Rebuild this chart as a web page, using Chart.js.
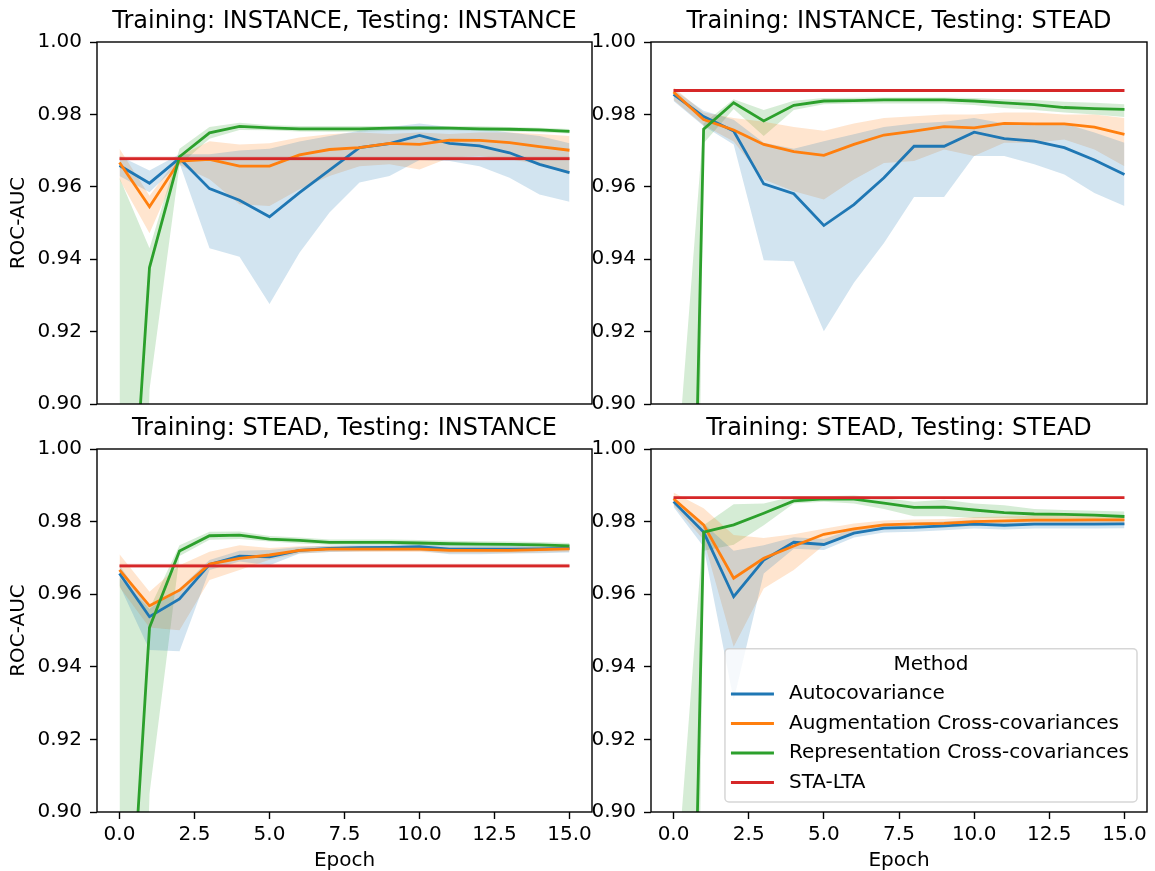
<!DOCTYPE html>
<html>
<head>
<meta charset="utf-8">
<title>ROC-AUC per epoch</title>
<script src="https://cdn.jsdelivr.net/npm/chart.js@4/dist/chart.umd.min.js"></script>
<style>
  html, body { margin: 0; padding: 0; background: #fff; }
  #fig { position: relative; width: 1155px; height: 871px; }
  #fig canvas { position: absolute; left: 0; top: 0; }
</style>
</head>
<body>
<div id="fig">
  <canvas id="c0" width="1155" height="871"></canvas>
  <canvas id="c1" width="1155" height="871"></canvas>
  <canvas id="c2" width="1155" height="871"></canvas>
  <canvas id="c3" width="1155" height="871"></canvas>
</div>
<script>
// ---- data ----
var epochs = [0, 1, 2, 3, 4, 5, 6, 7, 8, 9, 10, 11, 12, 13, 14, 15];
var xTicks = [0, 2.5, 5, 7.5, 10, 12.5, 15];
var yTicks = [0.90, 0.92, 0.94, 0.96, 0.98, 1.00];
var methods = ['Autocovariance', 'Augmentation Cross-covariances', 'Representation Cross-covariances', 'STA-LTA'];
var titles = [
  'Training: INSTANCE, Testing: INSTANCE',
  'Training: INSTANCE, Testing: STEAD',
  'Training: STEAD, Testing: INSTANCE',
  'Training: STEAD, Testing: STEAD'
];

// Training INSTANCE, testing INSTANCE
var autoII   = [0.9659, 0.9610, 0.9679, 0.9595, 0.9563, 0.9517, 0.9584, 0.9646, 0.9708, 0.9719, 0.9742, 0.9720, 0.9713, 0.9694, 0.9662, 0.9639];
var autoIILo = [0.9630, 0.9585, 0.9665, 0.9430, 0.9407, 0.9276, 0.9418, 0.9529, 0.9612, 0.9630, 0.9674, 0.9671, 0.9657, 0.9625, 0.9579, 0.9559];
var autoIIHi = [0.9685, 0.9645, 0.9690, 0.9690, 0.9700, 0.9705, 0.9725, 0.9740, 0.9755, 0.9765, 0.9775, 0.9765, 0.9760, 0.9750, 0.9740, 0.9720];
var augII    = [0.9667, 0.9545, 0.9671, 0.9676, 0.9657, 0.9657, 0.9688, 0.9703, 0.9708, 0.9720, 0.9717, 0.9729, 0.9728, 0.9722, 0.9711, 0.9701];
var augIILo  = [0.9620, 0.9472, 0.9660, 0.9621, 0.9552, 0.9547, 0.9593, 0.9630, 0.9657, 0.9662, 0.9648, 0.9680, 0.9685, 0.9676, 0.9662, 0.9634];
var augIIHi  = [0.9705, 0.9575, 0.9685, 0.9726, 0.9717, 0.9720, 0.9736, 0.9745, 0.9750, 0.9746, 0.9750, 0.9746, 0.9750, 0.9750, 0.9746, 0.9740];
var repII    = [0.812, 0.9377, 0.9683, 0.9749, 0.9767, 0.9763, 0.9760, 0.9760, 0.9760, 0.9762, 0.9763, 0.9762, 0.9760, 0.9759, 0.9757, 0.9753];
var repIILo  = [0.600, 0.9040, 0.9660, 0.9733, 0.9757, 0.9756, 0.9753, 0.9752, 0.9752, 0.9755, 0.9757, 0.9756, 0.9754, 0.9753, 0.9751, 0.9747];
var repIIHi  = [0.9625, 0.9430, 0.9705, 0.9765, 0.9777, 0.9770, 0.9768, 0.9768, 0.9768, 0.9768, 0.9768, 0.9768, 0.9767, 0.9765, 0.9763, 0.9760];

// Training INSTANCE, testing STEAD
var autoIS   = [0.9855, 0.9794, 0.9754, 0.9608, 0.9581, 0.9493, 0.9551, 0.9625, 0.9712, 0.9712, 0.9751, 0.9733, 0.9726, 0.9708, 0.9674, 0.9634];
var autoISLo = [0.9837, 0.9768, 0.9717, 0.9397, 0.9394, 0.9201, 0.9335, 0.9445, 0.9572, 0.9572, 0.9685, 0.9685, 0.9662, 0.9634, 0.9583, 0.9547];
var autoISHi = [0.9869, 0.9810, 0.9785, 0.9722, 0.9705, 0.9726, 0.9745, 0.9765, 0.9775, 0.9780, 0.9790, 0.9775, 0.9770, 0.9775, 0.9750, 0.9722];
var augIS    = [0.9862, 0.9786, 0.9757, 0.9717, 0.9697, 0.9687, 0.9717, 0.9743, 0.9754, 0.9766, 0.9763, 0.9775, 0.9774, 0.9774, 0.9765, 0.9745];
var augISLo  = [0.9840, 0.9770, 0.9725, 0.9620, 0.9588, 0.9565, 0.9620, 0.9666, 0.9671, 0.9703, 0.9685, 0.9722, 0.9722, 0.9731, 0.9703, 0.9657];
var augISHi  = [0.9875, 0.9805, 0.9790, 0.9780, 0.9765, 0.9755, 0.9775, 0.9790, 0.9795, 0.9800, 0.9800, 0.9805, 0.9805, 0.9800, 0.9800, 0.9790];
var repIS    = [0.600, 0.9759, 0.9832, 0.9782, 0.9825, 0.9837, 0.9838, 0.9840, 0.9840, 0.9840, 0.9837, 0.9832, 0.9827, 0.9819, 0.9816, 0.9814];
var repISLo  = [0.300, 0.9720, 0.9815, 0.9740, 0.9812, 0.9828, 0.9830, 0.9830, 0.9830, 0.9830, 0.9826, 0.9818, 0.9812, 0.9805, 0.9800, 0.9793];
var repISHi  = [0.870, 0.9775, 0.9842, 0.9812, 0.9838, 0.9845, 0.9846, 0.9847, 0.9847, 0.9847, 0.9845, 0.9842, 0.9840, 0.9835, 0.9832, 0.9828];

// Training STEAD, testing INSTANCE
var autoSI   = [0.9657, 0.9538, 0.9587, 0.9682, 0.9705, 0.9703, 0.9721, 0.9726, 0.9728, 0.9729, 0.9731, 0.9724, 0.9724, 0.9724, 0.9725, 0.9726];
var autoSILo = [0.9625, 0.9446, 0.9443, 0.9667, 0.9690, 0.9680, 0.9712, 0.9716, 0.9718, 0.9719, 0.9720, 0.9710, 0.9710, 0.9712, 0.9713, 0.9715];
var autoSIHi = [0.9680, 0.9560, 0.9616, 0.9694, 0.9720, 0.9722, 0.9730, 0.9734, 0.9736, 0.9737, 0.9739, 0.9734, 0.9734, 0.9734, 0.9735, 0.9736];
var augSI    = [0.9667, 0.9568, 0.9611, 0.9683, 0.9699, 0.9708, 0.9721, 0.9724, 0.9724, 0.9724, 0.9724, 0.9721, 0.9721, 0.9721, 0.9723, 0.9725];
var augSILo  = [0.9620, 0.9508, 0.9501, 0.9639, 0.9667, 0.9695, 0.9712, 0.9716, 0.9716, 0.9716, 0.9716, 0.9713, 0.9713, 0.9713, 0.9715, 0.9717];
var augSIHi  = [0.9710, 0.9607, 0.9680, 0.9717, 0.9735, 0.9727, 0.9732, 0.9733, 0.9733, 0.9733, 0.9733, 0.9730, 0.9730, 0.9730, 0.9731, 0.9733];
var repSI    = [0.818, 0.9508, 0.9719, 0.9761, 0.9763, 0.9752, 0.9748, 0.9743, 0.9743, 0.9743, 0.9741, 0.9739, 0.9738, 0.9737, 0.9736, 0.9733];
var repSILo  = [0.620, 0.9050, 0.9705, 0.9750, 0.9752, 0.9745, 0.9740, 0.9736, 0.9736, 0.9736, 0.9734, 0.9732, 0.9731, 0.9730, 0.9729, 0.9726];
var repSIHi  = [0.9644, 0.9560, 0.9735, 0.9772, 0.9773, 0.9760, 0.9756, 0.9751, 0.9751, 0.9751, 0.9749, 0.9747, 0.9746, 0.9745, 0.9744, 0.9741];

// Training STEAD, testing STEAD
var autoSS   = [0.9855, 0.9771, 0.9593, 0.9694, 0.9743, 0.9737, 0.9768, 0.9782, 0.9784, 0.9788, 0.9793, 0.9790, 0.9793, 0.9793, 0.9793, 0.9794];
var autoSSLo = [0.9840, 0.9731, 0.9308, 0.9657, 0.9725, 0.9722, 0.9756, 0.9770, 0.9772, 0.9776, 0.9781, 0.9778, 0.9781, 0.9781, 0.9781, 0.9782];
var autoSSHi = [0.9866, 0.9795, 0.9720, 0.9735, 0.9757, 0.9752, 0.9780, 0.9794, 0.9796, 0.9800, 0.9805, 0.9802, 0.9805, 0.9805, 0.9805, 0.9806];
var augSS    = [0.9863, 0.9791, 0.9644, 0.9699, 0.9733, 0.9765, 0.9780, 0.9791, 0.9794, 0.9795, 0.9800, 0.9802, 0.9804, 0.9804, 0.9805, 0.9805];
var augSSLo  = [0.9845, 0.9750, 0.9455, 0.9616, 0.9667, 0.9735, 0.9765, 0.9779, 0.9782, 0.9783, 0.9788, 0.9790, 0.9792, 0.9792, 0.9793, 0.9793];
var augSSHi  = [0.9880, 0.9837, 0.9763, 0.9755, 0.9765, 0.9780, 0.9795, 0.9803, 0.9806, 0.9807, 0.9812, 0.9814, 0.9816, 0.9816, 0.9817, 0.9817];
var repSS    = [0.600, 0.9771, 0.9791, 0.9823, 0.9857, 0.9863, 0.9862, 0.9851, 0.9839, 0.9840, 0.9832, 0.9825, 0.9821, 0.9820, 0.9818, 0.9814];
var repSSLo  = [0.300, 0.9720, 0.9736, 0.9790, 0.9850, 0.9855, 0.9850, 0.9835, 0.9815, 0.9815, 0.9810, 0.9810, 0.9805, 0.9805, 0.9805, 0.9803];
var repSSHi  = [0.870, 0.9790, 0.9848, 0.9850, 0.9870, 0.9870, 0.9872, 0.9865, 0.9855, 0.9860, 0.9850, 0.9845, 0.9835, 0.9832, 0.9830, 0.9828];

// STA-LTA baseline per panel (constant over epochs), and its small spread
var staLta = [0.9678, 0.9866, 0.9678, 0.9866];
var staLtaSpread = [0.0006, 0.0003, 0.0006, 0.0003];

// ---- styling ----
var colors = ['#1f77b4', '#ff7f0e', '#2ca02c', '#d62728'];
var bands = ['rgba(31,119,180,0.2)', 'rgba(255,127,14,0.2)', 'rgba(44,160,44,0.2)', 'rgba(214,39,40,0.2)'];
var FONT = 'DejaVu Sans';
var TICK_SIZE = 20;
var TITLE_SIZE = 24;
var Y_W = 88;      // width reserved for y axis (labels + title)
var X_H = 59;      // height reserved for x axis
var TITLE_PAD = 8;
var TITLE_H = TITLE_SIZE + TITLE_PAD;

Chart.defaults.font.family = FONT;
Chart.defaults.color = '#000';

function pts(arr) {
  return arr.map(function(v, i) { return { x: epochs[i], y: v }; });
}

function constant(v) {
  return epochs.map(function() { return v; });
}

function plus(arr, d) {
  return arr.map(function(v) { return v + d; });
}

// one mean line + shaded band (upper, lower filled to upper)
function seriesSets(k, mean, lo, hi) {
  return [
    { data: pts(hi), borderWidth: 0, borderColor: 'rgba(0,0,0,0)', pointRadius: 0, fill: false, order: 20 + k },
    { data: pts(lo), borderWidth: 0, borderColor: 'rgba(0,0,0,0)', pointRadius: 0, fill: '-1', backgroundColor: bands[k], order: 20 + k },
    { label: methods[k], inLegend: true, data: pts(mean), borderColor: colors[k], borderWidth: 2.8, pointRadius: 0, fill: false, tension: 0, order: 10 - k }
  ];
}

// frame on all four sides, like matplotlib spines
var framePlugin = {
  id: 'frame',
  afterDatasetsDraw: function(chart) {
    var a = chart.chartArea, ctx = chart.ctx;
    ctx.save();
    ctx.strokeStyle = '#000';
    ctx.lineWidth = 1.4;
    ctx.strokeRect(a.left, a.top, a.right - a.left, a.bottom - a.top);
    ctx.restore();
  }
};

// "Method" legend box inside the lower right of the chart area
var methodLegend = {
  id: 'methodLegend',
  afterDraw: function(chart, args, opts) {
    if (!opts.show) return;
    var ctx = chart.ctx, a = chart.chartArea;
    var items = chart.data.datasets.filter(function(d) { return d.inLegend; });
    ctx.save();
    ctx.font = TICK_SIZE + 'px "' + FONT + '"';
    var maxW = 0;
    items.forEach(function(d) { maxW = Math.max(maxW, ctx.measureText(d.label).width); });
    var rowH = 29.5;
    var right = a.right - 10, bottom = a.bottom - 10;
    var textX = right - 8 - maxW;
    var hx1 = textX - 15, hx0 = hx1 - 43;
    var left = hx0 - 6;
    var lastRow = bottom - 19.5;
    var firstRow = lastRow - (items.length - 1) * rowH;
    var titleY = firstRow - 29.3;
    var top = titleY - 16;

    ctx.beginPath();
    if (ctx.roundRect) ctx.roundRect(left, top, right - left, bottom - top, 4);
    else ctx.rect(left, top, right - left, bottom - top);
    ctx.fillStyle = 'rgba(255,255,255,0.8)';
    ctx.fill();
    ctx.strokeStyle = 'rgba(204,204,204,0.8)';
    ctx.lineWidth = 1.5;
    ctx.stroke();

    ctx.fillStyle = '#000';
    ctx.textBaseline = 'middle';
    ctx.textAlign = 'center';
    ctx.fillText('Method', (left + right) / 2, titleY);
    ctx.textAlign = 'left';
    items.forEach(function(d, i) {
      var y = firstRow + i * rowH;
      ctx.strokeStyle = d.borderColor;
      ctx.lineWidth = 2.8;
      ctx.beginPath();
      ctx.moveTo(hx0, y);
      ctx.lineTo(hx1, y);
      ctx.stroke();
      ctx.fillText(d.label, textX, y);
    });
    ctx.restore();
  }
};

var panels = [
  { canvas: 'c0', auto: [autoII, autoIILo, autoIIHi], aug: [augII, augIILo, augIIHi], rep: [repII, repIILo, repIIHi],
    left: 97, right: 592, top: 42, bottom: 404, yTitle: true, xLabels: false },
  { canvas: 'c1', auto: [autoIS, autoISLo, autoISHi], aug: [augIS, augISLo, augISHi], rep: [repIS, repISLo, repISHi],
    left: 651, right: 1147, top: 42, bottom: 404, yTitle: false, xLabels: false },
  { canvas: 'c2', auto: [autoSI, autoSILo, autoSIHi], aug: [augSI, augSILo, augSIHi], rep: [repSI, repSILo, repSIHi],
    left: 97, right: 592, top: 449, bottom: 812, yTitle: true, xLabels: true },
  { canvas: 'c3', auto: [autoSS, autoSSLo, autoSSHi], aug: [augSS, augSSLo, augSSHi], rep: [repSS, repSSLo, repSSHi],
    left: 651, right: 1147, top: 449, bottom: 812, yTitle: false, xLabels: true, legend: true }
];

panels.forEach(function(p, n) {
  var red = constant(staLta[n]);
  var datasets = []
    .concat(seriesSets(0, p.auto[0], p.auto[1], p.auto[2]))
    .concat(seriesSets(1, p.aug[0], p.aug[1], p.aug[2]))
    .concat(seriesSets(2, p.rep[0], p.rep[1], p.rep[2]))
    .concat(seriesSets(3, red, plus(red, -staLtaSpread[n]), plus(red, staLtaSpread[n])));

  var yGrid = { drawOnChartArea: false, drawTicks: true, tickLength: 7, tickWidth: 1.4, tickColor: '#000' };
  // top row shares the x axis: no tick marks, no labels there
  var xGrid = { drawOnChartArea: false, drawTicks: p.xLabels, tickLength: 7, tickWidth: 1.4, tickColor: '#000' };

  new Chart(document.getElementById(p.canvas), {
    type: 'line',
    data: { datasets: datasets },
    plugins: [framePlugin, methodLegend],
    options: {
      responsive: false,
      animation: false,
      events: [],
      layout: {
        padding: {
          left: p.left - Y_W,
          right: 1155 - p.right,
          top: p.top - TITLE_H,
          bottom: 871 - p.bottom - X_H
        }
      },
      scales: {
        x: {
          type: 'linear',
          min: -0.75,
          max: 15.75,
          afterBuildTicks: function(s) { s.ticks = xTicks.map(function(v) { return { value: v }; }); },
          afterFit: function(s) { s.height = X_H; },
          ticks: {
            display: p.xLabels,
            autoSkip: false,
            maxRotation: 0,
            padding: 6,
            font: { size: TICK_SIZE, lineHeight: 1 },
            callback: function(v) { return v.toFixed(1); }
          },
          grid: xGrid,
          border: { display: false },
          title: { display: p.xLabels, text: 'Epoch', font: { size: TICK_SIZE, lineHeight: 1 }, padding: 0 }
        },
        y: {
          type: 'linear',
          min: 0.9,
          max: 1.0,
          afterBuildTicks: function(s) { s.ticks = yTicks.map(function(v) { return { value: v }; }); },
          afterFit: function(s) { s.width = Y_W; },
          ticks: {
            padding: 8,
            font: { size: TICK_SIZE, lineHeight: 1 },
            callback: function(v) { return v.toFixed(2); }
          },
          grid: yGrid,
          border: { display: false },
          title: { display: p.yTitle, text: 'ROC-AUC', font: { size: TICK_SIZE, lineHeight: 1 }, padding: 0 }
        }
      },
      plugins: {
        legend: { display: false },
        tooltip: { enabled: false },
        title: {
          display: true,
          text: titles[n],
          fullSize: false,
          color: '#000',
          font: { size: TITLE_SIZE, weight: 'normal', lineHeight: 1 },
          padding: { top: 0, bottom: TITLE_PAD }
        },
        methodLegend: { show: !!p.legend }
      }
    }
  });
});
</script>
</body>
</html>
